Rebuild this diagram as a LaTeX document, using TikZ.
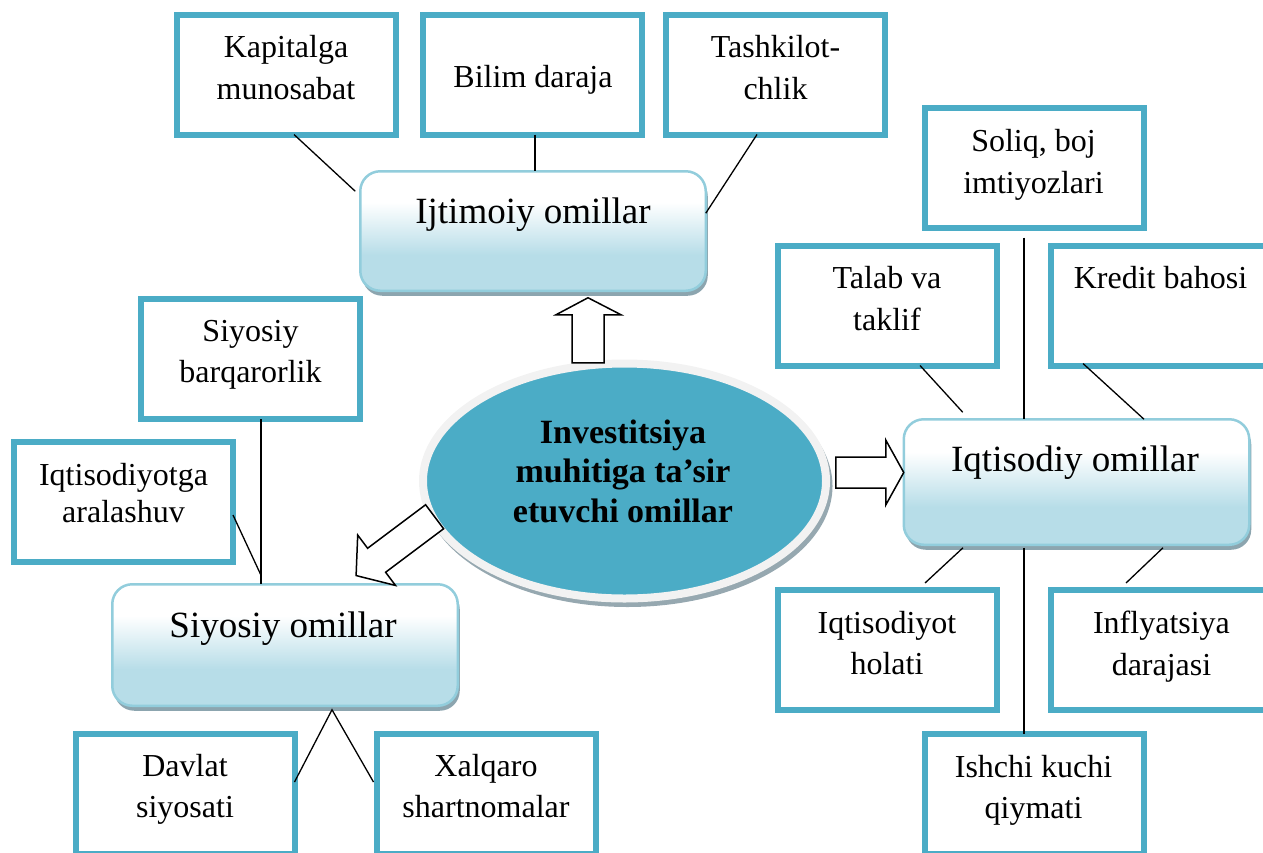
\documentclass[tikz,border=0pt]{standalone}
\usepackage{fontspec}
\setmainfont{Liberation Serif}
\usetikzlibrary{shapes.geometric,shadows,calc}
\definecolor{boxblue}{RGB}{75,172,198}
\definecolor{ellfill}{RGB}{75,172,198}
\definecolor{ringc}{RGB}{242,242,242}
\definecolor{ellshadow}{RGB}{150,168,176}
\definecolor{rborder}{RGB}{146,205,220}
\definecolor{rfill}{RGB}{183,221,232}
\definecolor{rshadow}{RGB}{140,165,175}
\pgfdeclareverticalshading{rshade}{100bp}{color(0bp)=(rfill); color(40bp)=(rfill); color(62bp)=(white); color(100bp)=(white)}
\begin{document}
\begin{tikzpicture}[x=1pt,y=-1pt,
  fbox/.style={draw=boxblue, line width=6pt, fill=white, minimum width=219pt, minimum height=120pt, inner sep=0pt, outer sep=0pt},
  rbox/.style={draw=rborder, line width=2.5pt, rounded corners=20pt, shading=rshade, minimum width=345.5pt, inner sep=0pt, outer sep=0pt, drop shadow={shadow xshift=2pt, shadow yshift=-5pt, fill=rshadow, opacity=1}},
  stxt/.style={anchor=north, inner sep=0pt, align=center, font=\fontsize{32}{41.5}\selectfont},
  rtxt/.style={anchor=north, inner sep=0pt, font=\fontsize{37}{44}\selectfont},
  link/.style={draw=black, line width=1.3pt},
  barrow/.style={draw=black, fill=white, line width=1.5pt, line join=miter}
]
\useasboundingbox (0,0) rectangle (1263,852);
\clip (0,0) rectangle (1263,852);

% central ellipse
\coordinate (ellc) at (624.5,481);
\fill[ellshadow] ($(ellc)+(3,5)$) ellipse [x radius=205pt, y radius=121pt];
\node[draw=ringc, line width=8pt, fill=ellfill, ellipse, minimum width=403pt, minimum height=235pt, inner sep=0pt] (ell) at (ellc) {};
\node[anchor=north, inner sep=0pt, align=center, font=\bfseries\fontsize{34}{39.5}\selectfont] (ellT) at ($(ell.center)+(-1.5,-61.5)$) {Investitsiya\\muhitiga ta’sir\\etuvchi omillar};

% rounded boxes
\node[rbox, minimum height=119.5pt] (ijt) at (533,231) {};
\node[rbox, minimum height=121.5pt] (sio) at (285,645) {};
\node[rbox, minimum height=125.5pt] (iqo) at (1076.5,482) {};
\node[rtxt] (ijtT) at ($(ijt.north)+(0,26)$) {Ijtimoiy omillar};
\node[rtxt] (sioT) at ($(sio.north)+(-2,27.5)$) {Siyosiy omillar};
\node[rtxt] (iqoT) at ($(iqo.north)+(-1.5,26)$) {Iqtisodiy omillar};

% factor boxes
\node[fbox] (kap) at (286,74.5) {};
\node[fbox] (bil) at (532,74.5) {};
\node[fbox] (tas) at (775.5,74.5) {};
\node[fbox] (sib) at (250.5,359) {};
\node[fbox] (iqa) at (123.5,502) {};
\node[fbox] (dav) at (185,794) {};
\node[fbox] (xal) at (486,794) {};
\node[fbox] (sol) at (1034.5,167.5) {};
\node[fbox] (tal) at (887,305.5) {};
\node[fbox] (kre) at (1160.5,305.5) {};
\node[fbox] (iqh) at (887,650) {};
\node[fbox] (inf) at (1160.5,650) {};
\node[fbox] (ish) at (1034.5,794) {};

\node[stxt] (kapT) at ($(kap.north)+(0,21)$) {Kapitalga\\munosabat};
\node[stxt] (bilT) at ($(bil.north)+(1,51)$) {Bilim daraja};
\node[stxt] (tasT) at ($(tas.north)+(0,21)$) {Tashkilot-\\chlik};
\node[stxt] (sibT) at ($(sib.north)+(0,21)$) {Siyosiy\\barqarorlik};
\node[stxt, font=\fontsize{32}{36.7}\selectfont] (iqaT) at ($(iqa.north)+(0,21)$) {Iqtisodiyotga\\aralashuv};
\node[stxt] (davT) at ($(dav.north)+(0,20)$) {Davlat\\siyosati};
\node[stxt] (xalT) at ($(xal.north)+(0,20)$) {Xalqaro\\shartnomalar};
\node[stxt] (solT) at ($(sol.north)+(-1,22)$) {Soliq, boj\\imtiyozlari};
\node[stxt] (talT) at ($(tal.north)+(0,21)$) {Talab va\\taklif};
\node[stxt] (kreT) at ($(kre.north)+(0,21)$) {Kredit bahosi};
\node[stxt] (iqhT) at ($(iqh.north)+(0,21)$) {Iqtisodiyot\\holati};
\node[stxt] (infT) at ($(inf.north)+(1,21)$) {Inflyatsiya\\darajasi};
\node[stxt] (ishT) at ($(ish.north)+(-1,21)$) {Ishchi kuchi\\qiymati};

% connectors: social
\draw[link] ($(kap.south)+(8,0)$) -- ($(ijt.north west)+(-5,20)$);
\coordinate (b1) at ($(bil.south)+(3,0)$);
\draw[link] (b1) -- (b1 |- ijt.north);
\draw[link] ($(tas.south)+(-18.5,0)$) -- ($(ijt.north east)+(0,42)$);

% connectors: political
\coordinate (s1) at ($(sib.south)+(10.5,0)$);
\coordinate (s2) at (s1 |- sio.north);
\draw[link] (s1) -- (s2);
\draw[link] ($(iqa.east)+(0,13)$) -- ($(s2)+(0,-9)$);
\coordinate (apx) at ($(sio.south)+(47,4)$);
\draw[link] ($(dav.east)+(0,-12)$) -- (apx) -- ($(xal.west)+(-3,-12)$);

% connectors: economic
\coordinate (q1) at ($(sol.south)+(-10.5,10)$);
\draw[link] (q1) -- (q1 |- iqo.north);
\draw[link] ($(tal.south)+(33,0)$) -- ($(iqo.north west)+(59,-7)$);
\draw[link] ($(kre.south)+(-77.5,-2)$) -- ($(iqo.north)+(67.5,0)$);
\draw[link] ($(iqo.south)+(-113.5,3)$) -- ($(iqh.north)+(38,-7)$);
\draw[link] ($(iqo.south)+(86.5,3)$) -- ($(inf.north)+(-34.5,-7)$);
\coordinate (q2) at ($(iqo.south)+(-52.5,3)$);
\draw[link] (q2) -- (q2 |- ish.north);

% block arrows from the centre
\coordinate (upT) at ($(ijt.south)+(55,7)$);
\draw[barrow] (upT) -- ++(33,17) -- ++(-17,0) -- ++(0,48) -- ++(-32,0) -- ++(0,-48) -- ++(-16,0) -- cycle;
\coordinate (rtT) at ($(iqo.west)+(0,-9.5)$);
\draw[barrow] (rtT) -- ++(-18,32.5) -- ++(0,-17) -- ++(-50,0) -- ++(0,-31) -- ++(50,0) -- ++(0,-17) -- cycle;
\coordinate (dgT) at ($(sio.north)+(71.1,-8.7)$);
\draw[barrow] (dgT) -- ++(39.4,9.9) -- ++(-9.9,-13.2) -- ++(58,-43.5) -- ++(-18,-24) -- ++(-58,43.5) -- ++(-9.9,-13.2) -- cycle;
\end{tikzpicture}
\end{document}
